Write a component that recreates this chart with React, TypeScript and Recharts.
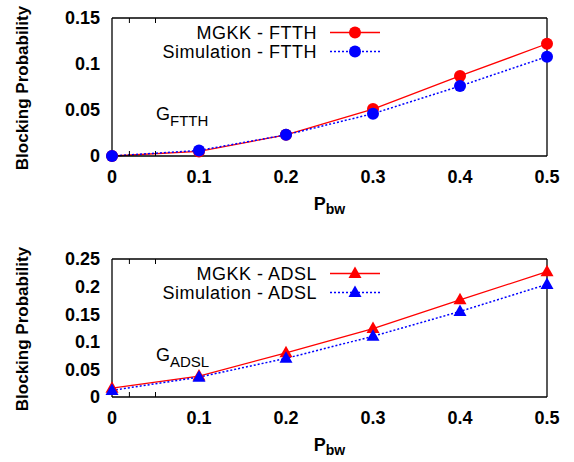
import React from 'react'
import { LineChart, Line, XAxis, YAxis } from 'recharts'

// values
const pbw = [0, 0.1, 0.2, 0.3, 0.4, 0.5]
const mgkkFtth = [0, 0.005, 0.023, 0.051, 0.087, 0.122]
const simFtth = [0, 0.006, 0.023, 0.046, 0.076, 0.108]
const mgkkAdsl = [0.016, 0.038, 0.08, 0.124, 0.176, 0.227]
const simAdsl = [0.012, 0.036, 0.07, 0.11, 0.155, 0.204]

const xTicks = [0, 0.1, 0.2, 0.3, 0.4, 0.5]
const ftthTicks = [0, 0.05, 0.1, 0.15]
const adslTicks = [0, 0.05, 0.1, 0.15, 0.2, 0.25]

const FONT = '"Liberation Sans", Arial, Helvetica, sans-serif'
const W = 574
const H = 231
const RED = '#ff0000'
const BLUE = '#0000ff'

type Shape = 'circle' | 'triangle'

function Marker({ cx, cy, fill, shape }: { cx?: number; cy?: number; fill: string; shape: Shape }) {
  if (cx == null || cy == null) return null
  if (shape === 'circle') return <circle cx={cx} cy={cy} r={6} fill={fill} />
  return <path d={`M${cx},${cy - 7}L${cx + 6.5},${cy + 4.5}L${cx - 6.5},${cy + 4.5}Z`} fill={fill} />
}

const PbwLabel = (props: any) => {
  const vb = props.viewBox || {}
  return (
    <text x={vb.x + vb.width / 2} y={vb.y + 54} textAnchor="middle" fontFamily={FONT} fontWeight={700} fontSize={18} fill="#000">
      <tspan>P</tspan>
      <tspan dy={4} fontSize={14}>bw</tspan>
    </text>
  )
}

const YTitle = (props: any) => {
  const vb = props.viewBox || {}
  const cx = 28
  const cy = vb.y + vb.height / 2 + 1
  return (
    <text x={cx} y={cy} transform={`rotate(-90 ${cx} ${cy})`} textAnchor="middle" fontFamily={FONT} fontWeight={700} fontSize={17} fill="#000">
      Blocking Probability
    </text>
  )
}

const emptyTick = () => <g />

function Panel({ a, b, names, yTicks, shape, tag, marginTop }: {
  a: number[]; b: number[]; names: string[]; yTicks: number[]; shape: Shape; tag: string; marginTop: number
}) {
  const rows = pbw.map((p, i) => ({ pbw: p, mgkk: a[i], sim: b[i] }))
  const yMax = yTicks[yTicks.length - 1]
  const axisStroke = { stroke: '#000', strokeWidth: 1.3 }
  const tickFont = { fill: '#000', fontSize: 18, fontWeight: 700, fontFamily: FONT }
  const rowY = [marginTop + 14.5, marginTop + 33.5]
  const legend = [
    { name: names[0], color: RED, dash: undefined },
    { name: names[1], color: BLUE, dash: '2 2' },
  ]
  return (
    <div style={{ position: 'relative', width: W, height: H }}>
      <LineChart width={W} height={H} data={rows} margin={{ top: marginTop, right: 27, bottom: 0, left: 0 }}>
        <XAxis dataKey="pbw" type="number" domain={[0, 0.5]} ticks={xTicks} height={H - marginTop - 138}
          tickLine={false} tickSize={0} tickMargin={14} axisLine={axisStroke} tick={tickFont} label={PbwLabel} />
        <XAxis xAxisId="bm" type="number" domain={[0, 0.5]} ticks={xTicks} mirror axisLine={false}
          tickSize={5} tickLine={{ stroke: '#000' }} tick={emptyTick} />
        <XAxis xAxisId="t" orientation="top" type="number" domain={[0, 0.5]} ticks={xTicks} mirror
          axisLine={axisStroke} tickSize={5} tickLine={{ stroke: '#000' }} tick={emptyTick} />
        <YAxis type="number" domain={[0, yMax]} ticks={yTicks} width={112} tickLine={false} tickSize={0}
          tickMargin={12} axisLine={axisStroke} tick={tickFont} label={YTitle} />
        <YAxis yAxisId="lm" type="number" domain={[0, yMax]} ticks={yTicks} mirror axisLine={false}
          tickSize={5} tickLine={{ stroke: '#000' }} tick={emptyTick} />
        <YAxis yAxisId="r" orientation="right" type="number" domain={[0, yMax]} ticks={yTicks} mirror
          axisLine={axisStroke} tickSize={5} tickLine={{ stroke: '#000' }} tick={emptyTick} />
        <Line dataKey="mgkk" stroke={RED} strokeWidth={1.3} isAnimationActive={false} activeDot={false}
          dot={(p: any) => <Marker key={`a${p.index}`} cx={p.cx} cy={p.cy} fill={RED} shape={shape} />} />
        <Line dataKey="sim" stroke={BLUE} strokeWidth={1.5} strokeDasharray="2 2" isAnimationActive={false} activeDot={false}
          dot={(p: any) => <Marker key={`b${p.index}`} cx={p.cx} cy={p.cy} fill={BLUE} shape={shape} />} />
      </LineChart>
      <svg width={W} height={H} style={{ position: 'absolute', left: 0, top: 0, pointerEvents: 'none' }}>
        {legend.map((l, i) => (
          <g key={l.name}>
            <text x={317} y={rowY[i] + 6} textAnchor="end" fontFamily={FONT} fontSize={18} letterSpacing={0.5} fill="#000">
              {l.name}
            </text>
            <line x1={330} x2={380} y1={rowY[i]} y2={rowY[i]} stroke={l.color} strokeWidth={i ? 1.5 : 1.3} strokeDasharray={l.dash} />
            <Marker cx={355} cy={rowY[i]} fill={l.color} shape={shape} />
          </g>
        ))}
        <text x={156} y={marginTop + 102} fontFamily={FONT} fontSize={18} fill="#000">
          <tspan>G</tspan>
          <tspan dy={6} fontSize={15}>{tag}</tspan>
        </text>
      </svg>
    </div>
  )
}

export default function App() {
  return (
    <div style={{ position: 'absolute', left: 0, top: 0, width: W, height: 462, background: '#fff' }}>
      <Panel a={mgkkFtth} b={simFtth} names={['MGKK - FTTH', 'Simulation - FTTH']} yTicks={ftthTicks}
        shape="circle" tag="FTTH" marginTop={18} />
      <Panel a={mgkkAdsl} b={simAdsl} names={['MGKK - ADSL', 'Simulation - ADSL']} yTicks={adslTicks}
        shape="triangle" tag="ADSL" marginTop={28} />
    </div>
  )
}
